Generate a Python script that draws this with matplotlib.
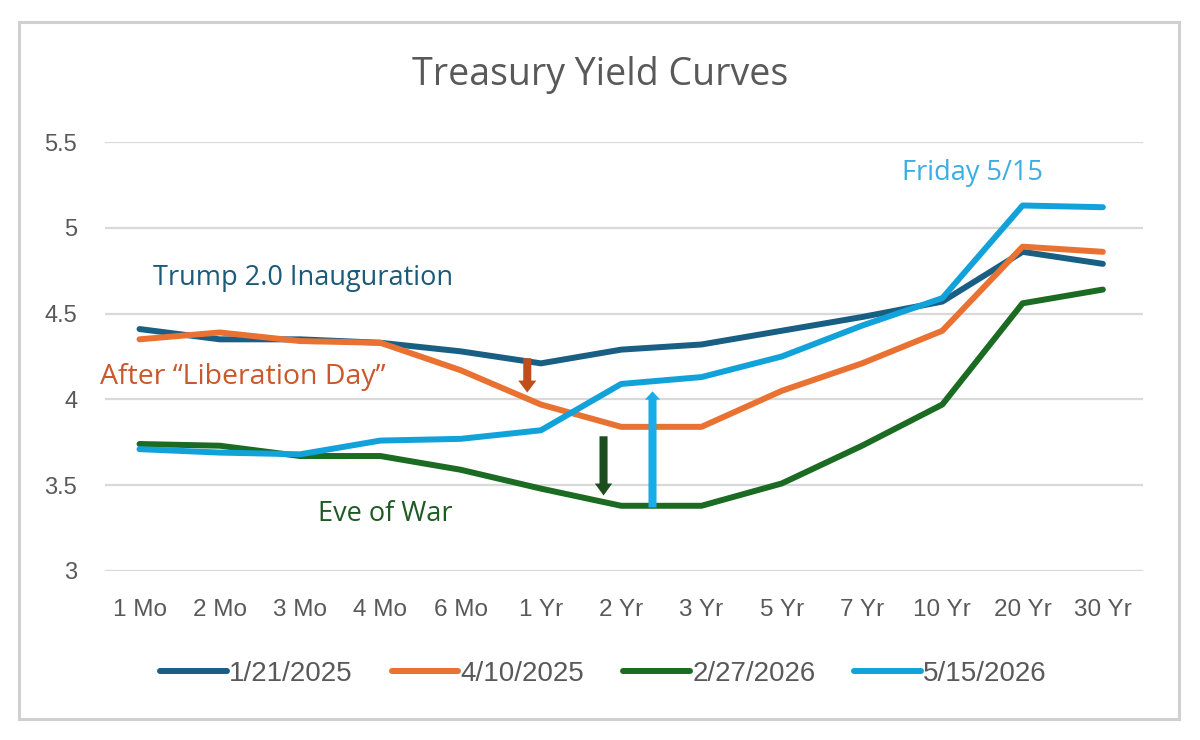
import matplotlib
matplotlib.use("Agg")
import matplotlib.pyplot as plt
from matplotlib.patches import Rectangle

# tenors on the x axis
tenors = ["1 Mo", "2 Mo", "3 Mo", "4 Mo", "6 Mo", "1 Yr", "2 Yr",
          "3 Yr", "5 Yr", "7 Yr", "10 Yr", "20 Yr", "30 Yr"]

# yields (%)
y_2025_01_21 = [4.41, 4.35, 4.35, 4.33, 4.28, 4.21, 4.29, 4.32, 4.40, 4.48, 4.57, 4.86, 4.79]
y_2025_04_10 = [4.35, 4.39, 4.34, 4.33, 4.17, 3.97, 3.84, 3.84, 4.05, 4.21, 4.40, 4.89, 4.86]
y_2026_02_27 = [3.74, 3.73, 3.67, 3.67, 3.59, 3.48, 3.38, 3.38, 3.51, 3.73, 3.97, 4.56, 4.64]
y_2026_05_15 = [3.71, 3.69, 3.68, 3.76, 3.77, 3.82, 4.09, 4.13, 4.25, 4.43, 4.59, 5.13, 5.12]

series_labels = ["1/21/2025", "4/10/2025", "2/27/2026", "5/15/2026"]
series_colors = ["#195E83", "#E97132", "#1B6B23", "#12A2DA"]

yticks = [3, 3.5, 4, 4.5, 5, 5.5]
ytick_labels = ["3", "3.5", "4", "4.5", "5", "5.5"]

title_font = "Open Sans"
tick_font = "Liberation Sans"
grey = "#595959"

fig = plt.figure(figsize=(12, 7.4), dpi=100)
ax = fig.add_axes([0.0875, 0.2284, 0.865, 0.5797])

x = list(range(len(tenors)))
all_series = [y_2025_01_21, y_2025_04_10, y_2026_02_27, y_2026_05_15]
for vals, lab, col in zip(all_series, series_labels, series_colors):
    ax.plot(x, vals, color=col, lw=4.3, label=lab, solid_capstyle="round",
            solid_joinstyle="round", zorder=3)

ax.set_xlim(-0.43, 12.5)
ax.set_ylim(3, 5.5)
ax.set_yticks(yticks)
ax.set_yticklabels(ytick_labels, fontfamily=tick_font, fontsize=17, color=grey)
ax.set_xticks(x)
ax.set_xticklabels(tenors, fontfamily=tick_font, fontsize=17.5, color=grey)
ax.tick_params(axis="both", length=0)
ax.tick_params(axis="y", pad=20)
ax.tick_params(axis="x", pad=20)
ax.grid(axis="y", color="#D9D9D9", lw=1.6, zorder=0)
for s in ax.spines.values():
    s.set_visible(False)

# annotations
ax.text(0.17, 4.71, "Trump 2.0 Inauguration", color="#1A5A7A",
        fontfamily=title_font, fontsize=19.5, ha="left", va="center")
ax.text(-0.49, 4.13, "After \u201cLiberation Day\u201d", color="#C9582A",
        fontfamily=title_font, fontsize=20.5, ha="left", va="center")
ax.text(2.22, 3.33, "Eve of War", color="#1E5A22",
        fontfamily=title_font, fontsize=19.5, ha="left", va="center")
ax.text(9.5, 5.32, "Friday 5/15", color="#3AADE3",
        fontfamily=title_font, fontsize=19.5, ha="left", va="center")

# arrows (sizes in points, mutation_scale=1)
def arrow(x0, y0, y1, col, hw=13, hl=8.6):
    style = "simple,head_width={},head_length={},tail_width=5.8".format(hw, hl)
    ax.annotate("", xy=(x0, y1), xytext=(x0, y0),
                arrowprops=dict(arrowstyle=style, mutation_scale=1, color=col,
                                lw=0, shrinkA=0, shrinkB=0),
                zorder=4)

arrow(4.83, 4.24, 4.04, "#C04E1A")
arrow(5.78, 3.785, 3.44, "#1B4D1F", hw=12.5)
arrow(6.39, 3.37, 4.047, "#1AACE6", hw=11, hl=6)

fig.text(0.5, 0.899, "Treasury Yield Curves", ha="center", va="center",
         fontfamily=title_font, fontsize=27, color=grey)

leg = fig.legend(loc="center", bbox_to_anchor=(0.503, 0.0895), ncol=4,
                 frameon=False, handlelength=2.4, handletextpad=0.08,
                 columnspacing=1.4, prop={"family": tick_font, "size": 20})
for t in leg.get_texts():
    t.set_color(grey)

fig.patches.append(Rectangle((19 / 1200, 1 - 719 / 740), 1160 / 1200, 697 / 740,
                             transform=fig.transFigure, fill=False,
                             edgecolor="#D0D0D0", lw=2.2))

fig.savefig("out.png", dpi=100, facecolor="white")
